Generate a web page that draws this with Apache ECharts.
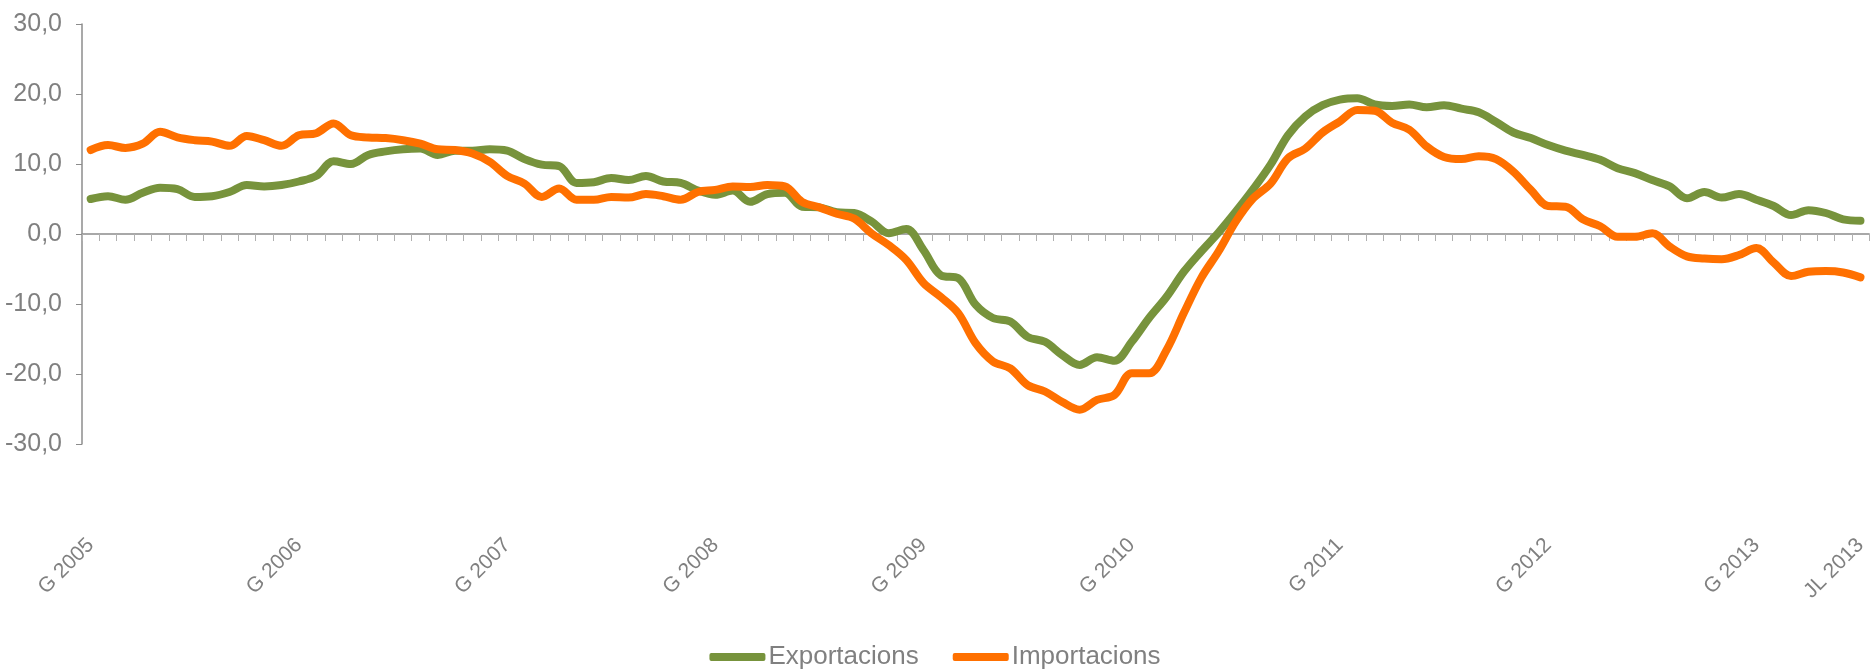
<!DOCTYPE html>
<html style="height: 100%; margin: 0">
<head>
<meta charset="UTF-8">
<title>Exportacions i importacions</title>
</head>
<body style="height: 100%; margin: 0">
<div id="container" style="height:100%"></div>
<script type="text/javascript" src="https://cdn.jsdelivr.net/npm/echarts@6/dist/echarts.min.js"></script>
<script type="text/javascript">
	var mesos = ['G','F','MÇ','AB','MG','JN','JL','AG','S','O','N','D'];
	var anys = [2005, 2006, 2007, 2008, 2009, 2010, 2011, 2012, 2013];
	var ultimMes = 6; // juliol 2013

	var exportacions = [
		5.0, 5.4, 4.9, 5.9, 6.6, 6.4, 5.3, 5.4, 6.0, 7.0, 6.8, 7.0,
		7.5, 8.3, 10.4, 10.0, 11.3, 11.8, 12.1, 12.2, 11.3, 11.9, 11.9, 12.1,
		11.9, 10.7, 9.9, 9.7, 7.3, 7.4, 8.0, 7.7, 8.3, 7.5, 7.3, 6.2,
		5.6, 6.2, 4.6, 5.7, 5.9, 3.9, 3.8, 3.1, 3.0, 1.8, 0.1, 0.7,
		-2.3, -5.9, -6.3, -10.1, -12.0, -12.5, -14.7, -15.4, -17.3, -18.7, -17.6, -18.1,
		-15.4, -12.0, -9.0, -5.4, -2.5, 0.2, 3.2, 6.4, 9.9, 14.1, 16.8, 18.4,
		19.2, 19.4, 18.5, 18.3, 18.5, 18.1, 18.4, 17.9, 17.4, 16.0, 14.5, 13.7,
		12.7, 11.9, 11.3, 10.6, 9.4, 8.7, 7.7, 6.8, 5.1, 6.0, 5.2, 5.7,
		4.9, 4.0, 2.7, 3.4, 3.0, 2.1, 1.9
	];
	var importacions = [
		12.0, 12.7, 12.3, 12.9, 14.6, 13.8, 13.4, 13.2, 12.6, 14.0, 13.4, 12.6,
		14.1, 14.4, 15.8, 14.1, 13.8, 13.7, 13.4, 12.9, 12.1, 12.0, 11.5, 10.3,
		8.3, 7.2, 5.3, 6.5, 4.9, 4.9, 5.3, 5.2, 5.7, 5.4, 4.9, 6.0,
		6.3, 6.8, 6.7, 7.0, 6.8, 4.6, 3.8, 2.9, 2.2, 0.1, -1.6, -3.7,
		-7.0, -9.0, -11.3, -15.6, -18.2, -19.2, -21.6, -22.5, -24.0, -25.1, -23.7, -23.0,
		-19.9, -19.9, -16.6, -11.3, -6.3, -2.5, 1.8, 5.1, 7.2, 10.8, 12.2, 14.5,
		16.1, 17.7, 17.6, 15.9, 14.9, 12.5, 11.0, 10.7, 11.1, 10.7, 8.9, 6.3,
		4.0, 3.9, 2.1, 1.1, -0.4, -0.4, 0.1, -1.8, -3.2, -3.5, -3.6, -3.0,
		-2.0, -4.1, -6.0, -5.4, -5.3, -5.5, -6.2
	];

	var dates = [];
	for (var a = 0; a < anys.length; a++) {
		for (var m = 0; m < 12; m++) {
			if (a === anys.length - 1 && m > ultimMes) break;
			dates.push(mesos[m] + ' ' + anys[a]);
		}
	}
	var last = dates.length - 1;

	var gris = '#808080';
	var font = 'Liberation Sans, Arial, sans-serif';

	var dom = document.getElementById("container");
	var myChart = echarts.init(dom);
	var option = {
		animation: false,
		textStyle: { fontFamily: font },
		grid: {
			left: 82,
			right: -5,
			top: 24,
			bottom: 225
		},
		legend: {
			left: 'center',
			top: 639,
			icon: 'roundRect',
			itemWidth: 56,
			itemHeight: 8,
			itemGap: 34,
			textStyle: { color: gris, fontSize: 26, fontFamily: font, padding: [0, 0, 0, -2] },
			data: ['Exportacions', 'Importacions']
		},
		xAxis: [{
			type: 'category',
			boundaryGap: true,
			data: dates,
			axisLine: { onZero: true, lineStyle: { color: '#8c8c8c', width: 1.5 } },
			axisTick: { show: true, interval: 0, length: 7, lineStyle: { color: '#b0b0b0' } },
			axisLabel: { show: false }
		}, {
			type: 'category',
			boundaryGap: true,
			data: dates,
			position: 'bottom',
			axisLine: { show: false, onZero: false },
			axisTick: { show: false },
			axisLabel: {
				rotate: 45,
				margin: 98,
				color: gris,
				fontSize: 21,
				fontFamily: font,
				interval: function (idx) { return idx % 12 === 0 || idx === last; }
			}
		}],
		yAxis: {
			type: 'value',
			min: -30,
			max: 30,
			interval: 10,
			axisLine: { show: true, lineStyle: { color: '#8c8c8c', width: 1.5 } },
			axisTick: { show: true, length: 6, lineStyle: { color: '#8c8c8c' } },
			splitLine: { show: false },
			axisLabel: {
				color: gris,
				fontSize: 25,
				fontFamily: font,
				margin: 20,
				formatter: function (v) { return v.toFixed(1).replace('.', ','); }
			}
		},
		series: [{
			name: 'Exportacions',
			type: 'line',
			smooth: 0.35,
			showSymbol: false,
			lineStyle: { color: '#77933C', width: 8, cap: 'round', join: 'round' },
			itemStyle: { color: '#77933C' },
			data: exportacions
		}, {
			name: 'Importacions',
			type: 'line',
			smooth: 0.35,
			showSymbol: false,
			lineStyle: { color: '#FF7000', width: 8, cap: 'round', join: 'round' },
			itemStyle: { color: '#FF7000' },
			data: importacions
		}]
	};
	if (option && typeof option === "object") {
		myChart.setOption(option, true);
	}
</script>
</body>
</html>
